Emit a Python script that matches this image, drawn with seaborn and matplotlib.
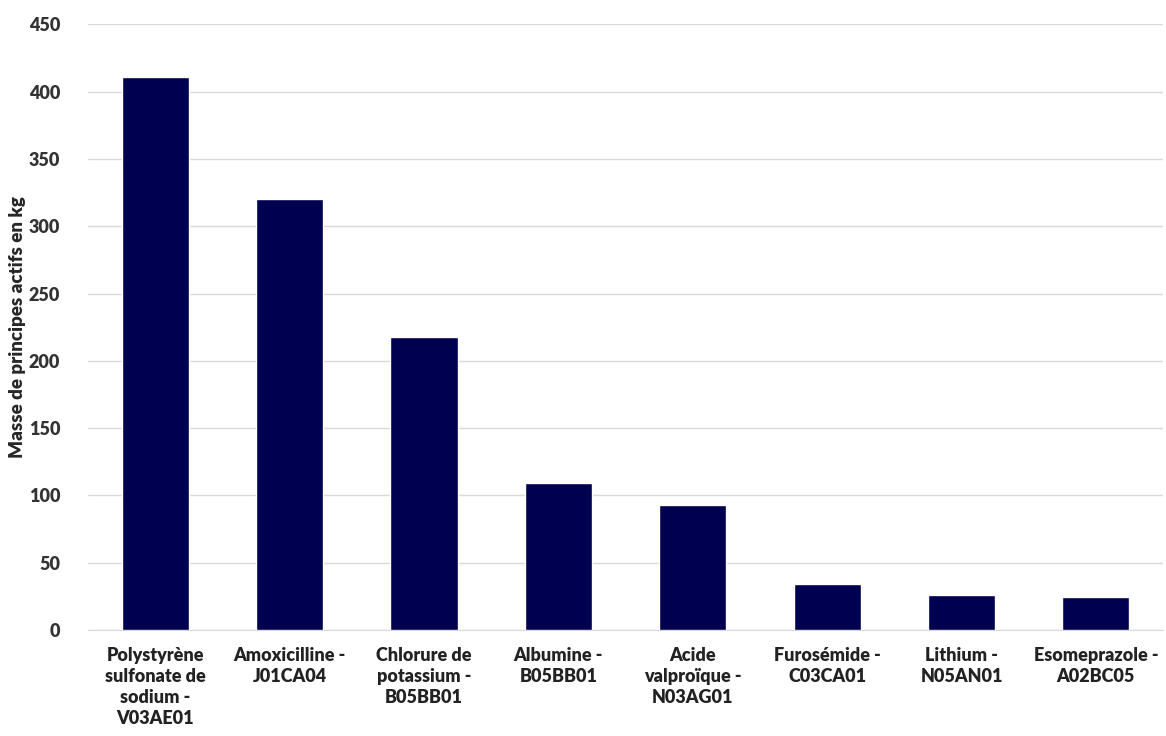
import seaborn as sns
import pandas as pd
import matplotlib
matplotlib.use('Agg')
import matplotlib.pyplot as plt

labels = ['Polystyrène\nsulfonate de\nsodium -\nV03AE01',
          'Amoxicilline -\nJ01CA04',
          'Chlorure de\npotassium -\nB05BB01',
          'Albumine -\nB05BB01',
          'Acide\nvalproïque -\nN03AG01',
          'Furosémide -\nC03CA01',
          'Lithium -\nN05AN01',
          'Esomeprazole -\nA02BC05']
masses = [411, 320, 218, 109, 93, 34, 26, 24.5]
yticks = [0, 50, 100, 150, 200, 250, 300, 350, 400, 450]

data = pd.DataFrame({'label': labels, 'masse': masses})

sns.set_style('white')
plt.rcParams['font.family'] = ['Lato', 'DejaVu Sans']

fig = plt.figure(figsize=(11.66, 7.36), dpi=100)
ax = fig.add_axes([0.0755, 0.144, 0.922, 0.823])
sns.barplot(data=data, x='label', y='masse', color='#000050', width=0.5,
            saturation=1, ax=ax, zorder=3)

ax.set_ylim(0, 450)
ax.set_yticks(yticks)
ax.set_yticklabels([str(t) for t in yticks], fontsize=13, fontweight='heavy', color='#333333')
ax.set_xticks(range(len(labels)))
ax.set_xticklabels(labels, fontsize=13, fontweight='heavy', color='#222222',
                   linespacing=1.3, va='top')
ax.tick_params(axis='x', length=0, pad=12)
ax.tick_params(axis='y', length=0, pad=20)
ax.set_xlabel('')
ax.set_ylabel('Masse de principes actifs en kg', fontsize=13.5, fontweight='heavy', labelpad=2)
ax.grid(axis='y', color='#d9d9d9', linewidth=1, zorder=0)
for s in ['top', 'right', 'left']:
    ax.spines[s].set_visible(False)
ax.spines['bottom'].set_color('#d9d9d9')

plt.savefig('out.png', dpi=100)
